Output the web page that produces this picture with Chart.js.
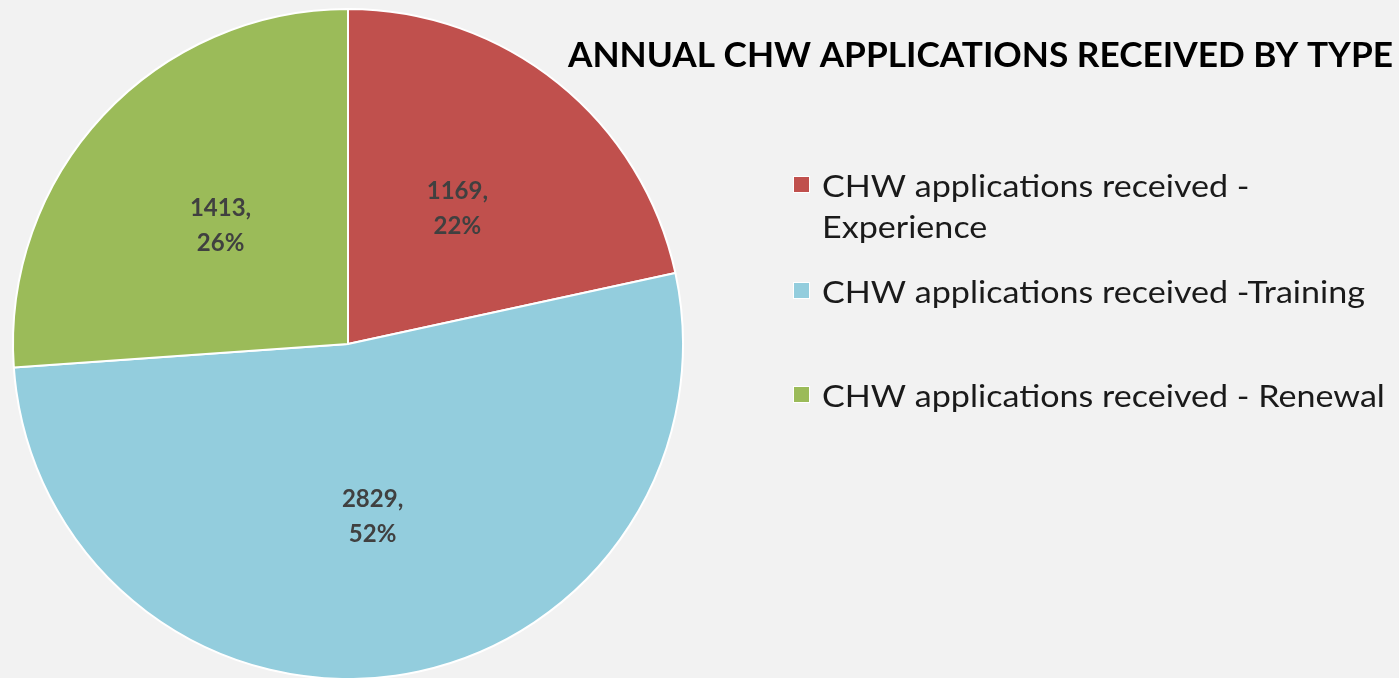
<!DOCTYPE html>
<html><head><meta charset="utf-8">
<script src="https://cdn.jsdelivr.net/npm/chart.js@4.4.0/dist/chart.umd.min.js"></script>
<style>html,body{margin:0;padding:0;background:#F2F2F2;overflow:hidden}#wrap{width:1399px;height:678px;position:relative}canvas{display:block}</style>
</head><body><div id="wrap"><canvas id="c" width="1399" height="678"></canvas></div>
<script>
// ---- data ----
const categories = ['CHW applications received - Experience', 'CHW applications received -Training', 'CHW applications received - Renewal'];
const legendLines = [['CHW applications received -', 'Experience'], ['CHW applications received -Training'], ['CHW applications received - Renewal']];
const values = [1169, 2829, 1413];
const colors = ['#C0504D', '#93CDDD', '#9BBB59'];
const titleText = 'ANNUAL CHW APPLICATIONS RECEIVED BY TYPE';

const total = values.reduce((a, b) => a + b, 0);
const percentLabels = values.map(v => Math.round(v / total * 100) + '%');

const FONT = "Lato, 'Open Sans', 'Liberation Sans', sans-serif";

function drawScaled(ctx, text, x, y, sx) {
  ctx.save(); ctx.translate(x, y); ctx.scale(sx, 1); ctx.fillText(text, 0, 0); ctx.restore();
}

const bgPlugin = {
  id: 'bg',
  beforeDraw(chart) {
    const ctx = chart.ctx;
    ctx.save(); ctx.fillStyle = '#F2F2F2'; ctx.fillRect(0, 0, chart.width, chart.height); ctx.restore();
  }
};

const decorPlugin = {
  id: 'decor',
  afterDraw(chart) {
    const ctx = chart.ctx;
    // slice labels
    const meta = chart.getDatasetMeta(0);
    ctx.save();
    ctx.fillStyle = '#404040';
    ctx.font = "bold 24px " + FONT;
    ctx.textAlign = 'center';
    ctx.textBaseline = 'middle';
    meta.data.forEach((arc, i) => {
      const p = arc.getProps(['startAngle', 'endAngle', 'outerRadius', 'x', 'y'], true);
      const mid = (p.startAngle + p.endAngle) / 2;
      const r = p.outerRadius * 0.52;
      const cx = p.x + Math.cos(mid) * r;
      const cy = p.y + Math.sin(mid) * r;
      ctx.fillText(values[i] + ',', cx, cy - 17);
      ctx.fillText(percentLabels[i], cx, cy + 18);
    });
    ctx.restore();

    // title
    ctx.save();
    ctx.fillStyle = '#000000';
    ctx.font = "bold 35px " + FONT;
    ctx.textBaseline = 'alphabetic';
    ctx.textAlign = 'left';
    const tw = ctx.measureText(titleText).width;
    drawScaled(ctx, titleText, 568, 67, 825 / tw);
    ctx.restore();

    // legend
    ctx.save();
    ctx.font = "31px " + FONT;
    ctx.textBaseline = 'alphabetic';
    ctx.textAlign = 'left';
    const ref = ctx.measureText(legendLines[1][0]).width;
    const sx = 543 / ref;
    const baselines = [197, 303, 407];
    const lineH = 41;
    legendLines.forEach((lines, i) => {
      const b = baselines[i];
      ctx.fillStyle = '#FFFFFF';
      ctx.fillRect(793, b - 21, 17, 17);
      ctx.fillStyle = colors[i];
      ctx.fillRect(794, b - 20, 15, 15);
      ctx.fillStyle = '#1A1A1A';
      lines.forEach((t, j) => drawScaled(ctx, t, 822, b + j * lineH, sx));
    });
    ctx.restore();
  }
};

new Chart(document.getElementById('c'), {
  type: 'pie',
  data: {
    labels: categories,
    datasets: [{
      data: values,
      backgroundColor: colors,
      borderColor: '#FFFFFF',
      borderWidth: 2,
      radius: 335,
      clip: false
    }]
  },
  options: {
    responsive: false,
    animation: false,
    devicePixelRatio: 1,
    layout: { padding: { left: 0, right: 703, top: 10, bottom: 0 } },
    plugins: {
      legend: { display: false },
      title: { display: false },
      tooltip: { enabled: false }
    }
  },
  plugins: [bgPlugin, decorPlugin]
});
</script>
</body></html>
